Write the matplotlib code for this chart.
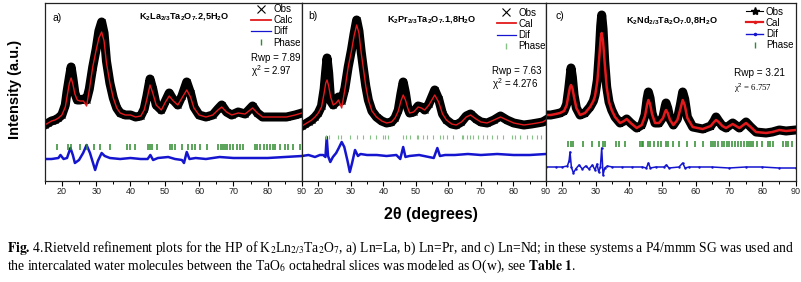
import matplotlib
matplotlib.use("Agg")
import matplotlib.pyplot as plt
from matplotlib.lines import Line2D

plt.rcParams.update({
    "font.family": "Liberation Sans",
    "mathtext.fontset": "custom",
    "mathtext.rm": "Liberation Sans",
    "mathtext.bf": "Liberation Sans:bold",
    "mathtext.it": "Liberation Sans:italic",
    "axes.linewidth": 0.9,
})

# ---- data (intensity in a.u., 2theta in degrees)
# panel a) K2La2/3Ta2O7.2,5H2O
theta_a = [15, 16, 17, 18, 19, 20, 21, 21.5, 22.2, 22.7, 23.2, 23.8, 24.5, 25.3, 26.3, 27.2,
           28, 29, 30, 30.8, 31.6, 32.3, 33, 34, 35, 36, 37, 38.5, 40, 41.5, 43, 44, 44.8,
           45.7, 46.5, 47.5, 49, 50.2, 51.3, 52.5, 53.8, 55, 56.4, 57.5, 58.5, 60, 62, 64,
           65.5, 66.6, 68, 69.5, 71.4, 73.4, 75.6, 77, 78.5, 80.5, 83, 85.5, 88, 90]
calc_a = [56, 58, 60, 61, 63, 66, 74, 84, 98, 103, 97, 87, 81, 80, 80, 75,
          91, 114, 131, 143, 149, 140, 118, 98, 83, 73, 68, 66, 66, 64, 65, 71, 82,
          96, 88, 76, 71, 79, 85, 80, 76, 83, 91, 84, 73, 66, 64, 66,
          71, 74, 69, 66, 68, 67, 73, 68, 64, 64, 64, 64, 66, 68]
obs_a = [56, 58, 60, 61, 63, 66, 76, 89, 104, 114, 103, 88, 81, 81, 82, 81,
         92, 114, 132, 150, 159, 148, 120, 98, 83, 73, 68, 66, 66, 64, 65, 72, 85,
         102, 92, 76, 71, 80, 88, 81, 76, 85, 99, 88, 74, 66, 64, 66,
         72, 76, 69, 66, 69, 67, 75, 68, 64, 64, 64, 64, 66, 68]
theta_da = [15, 17, 19, 19.6, 20.5, 21.5, 22.5, 23.2, 23.8, 25, 26.2, 27.2, 28.2, 29, 29.7,
            30.5, 31.6, 32.5, 34, 37, 40, 43, 45, 45.8, 46.6, 48, 51, 53, 55, 55.6, 56.4,
            57.2, 59, 62, 66, 70, 75, 80, 85, 90]
diff_a = [22, 22, 23, 26, 22, 23, 33, 26, 18, 21, 28, 36, 28, 19, 11,
          20, 28, 25, 23, 22, 23, 22, 22, 26, 21, 23, 24, 22, 21, 18, 29,
          22, 23, 22, 24, 23, 23, 23, 24, 25]
phase_a = [18.7, 21.9, 22.7, 25.3, 27.4, 29.4, 31.1, 34.0, 38.9, 39.9, 41.3, 45.2, 45.7,
           46.2, 47.7, 51.5, 52.0, 53.0, 54.9, 56.9, 57.9, 58.8, 60.3, 62.2, 65.6, 66.3,
           66.9, 67.6, 68.1, 69.0, 70.0, 71.0, 71.9, 72.9, 76.3, 76.8, 77.8, 78.8, 79.7,
           80.7, 81.6, 82.1, 83.6, 85.1, 86.0, 87.5, 89.4]

# panel b) K2Pr2/3Ta2O7.1,8H2O
theta_b = [15, 16, 17, 18, 19, 20, 21, 21.8, 22.3, 22.7, 23.2, 23.8, 24.6, 25.5, 26.2, 27.2,
           28.2, 29.2, 30.2, 31, 31.8, 32.5, 33.2, 33.8, 34.6, 35.4, 36.5, 37.9, 39.5, 41,
           42.5, 43.6, 44.6, 45.4, 46.1, 46.8, 47.5, 48.1, 49.3, 50.7, 51.7, 52.7, 54, 55.8,
           57, 58.2, 59.4, 61, 62.4, 64, 65.5, 66.8, 68.5, 70, 71.9, 74, 76, 78, 80.1,
           83.2, 85.5, 87.3, 89, 90]
calc_b = [55, 57, 59, 61, 64, 68, 74, 88, 98, 101, 95, 84, 76, 78, 81, 73,
          92, 114, 130, 145, 156, 148, 128, 114, 95, 81, 70, 64, 60, 58,
          59, 63, 70, 80, 86, 81, 73, 68, 69, 74, 73, 71, 76, 86,
          79, 67, 61, 57, 56, 59, 64, 66, 62, 59, 58, 61, 64, 61, 58,
          56, 57, 58, 59, 61]
obs_b = [55, 57, 59, 61, 64, 68, 75, 92, 110, 123, 108, 80, 76, 79, 84, 80,
         93, 114, 131, 147, 161, 150, 129, 114, 95, 81, 70, 64, 60, 58,
         59, 63, 71, 87, 99, 88, 73, 68, 69, 75, 74, 71, 77, 91,
         82, 67, 61, 57, 56, 59, 65, 67, 62, 59, 58, 61, 65, 61, 58,
         56, 57, 58, 59, 61]
theta_db = [15, 17, 19, 20.5, 21.5, 22.2, 22.6, 23.0, 23.7, 24.5, 25.5, 26.3, 27.2, 28, 29,
            29.7, 30.4, 31.3, 32.2, 33, 35, 38, 41, 44, 45.2, 46.1, 46.8, 48, 51, 54, 55.5,
            56.6, 57.4, 59, 62, 66, 70, 75, 80, 85, 90]
diff_b = [25, 26, 24, 26, 26, 24, 44, 25, 19, 24, 28, 33, 39, 34, 20,
          9, 18, 31, 25, 27, 26, 26, 25, 26, 22, 34, 24, 25, 26, 24, 23,
          33, 25, 26, 26, 27, 26, 27, 26, 26, 27]
phase_b = [22.4, 23.4, 26.2, 27.0, 29.8, 32.0, 33.9, 35.9, 37.7, 40.0, 40.5, 41.5, 46.1,
           47.0, 48.2, 50.3, 50.8, 52.3, 53.3, 55.4, 57.4, 58.4, 59.5, 61.5, 64.1, 64.6,
           65.6, 66.6, 67.7, 69.2, 70.7, 71.8, 73.3, 74.9, 76.9, 79.5, 80.5, 82.0, 84.1,
           85.6, 87.1, 88.6]

# panel c) K2Nd2/3Ta2O7.0,8H2O
theta_c = [15, 16.5, 18, 19.3, 20.5, 21.3, 21.9, 22.3, 22.6, 23, 23.5, 24.2, 25.3, 26.8, 28.3,
           29.3, 29.8, 30.5, 31.1, 31.5, 31.8, 32.2, 32.7, 33.3, 34, 34.8, 35.8, 37.3, 38.5,
           39.3, 40.5, 42.3, 43.8, 44.8, 45.4, 45.8, 46.3, 46.9, 47.8, 49, 50.2, 50.8, 51.1,
           51.6, 52.3, 53.3, 54.5, 55.4, 56.1, 56.7, 57.5, 59.1, 62.1, 64.5, 65.5, 66.1,
           66.9, 68, 69.1, 71.1, 73.1, 75.1, 76.5, 78.1, 81.1, 83, 85.1, 87.1, 90]
calc_c = [66, 66, 67, 68, 70, 76, 87, 94, 96, 93, 84, 73, 66, 68, 74,
          80, 85, 100, 125, 143, 148, 140, 118, 94, 79, 71, 64, 58, 60,
          62, 58, 53, 56, 65, 76, 81, 77, 67, 58, 58, 63, 69, 71,
          68, 61, 56, 61, 72, 81, 76, 63, 54, 52, 55, 59, 61,
          59, 55, 53, 57, 53, 58, 54, 49, 48, 49, 51, 50, 51]
obs_c = [66, 66, 67, 68, 70, 77, 92, 104, 113, 104, 86, 73, 66, 68, 74,
         80, 86, 101, 130, 155, 166, 152, 120, 94, 79, 71, 64, 58, 60,
         62, 58, 53, 56, 66, 82, 89, 83, 68, 58, 58, 64, 74, 78,
         73, 62, 56, 62, 76, 89, 82, 64, 54, 52, 55, 60, 64,
         60, 55, 53, 58, 53, 59, 54, 49, 48, 49, 51, 50, 51]
theta_dc = [15, 18, 20, 21.5, 22, 22.3, 22.7, 23.3, 24, 25, 26, 27, 28, 29, 29.8, 30.4, 30.9,
            31.4, 31.8, 32.2, 32.7, 33.5, 35, 38, 41, 44, 45.2, 45.8, 46.4, 48, 50.5, 51.2,
            52, 55, 56.1, 56.8, 58, 61, 65, 70, 75, 80, 85, 90]
diff_c = [14, 14, 14, 15, 20, 29, 14, 8, 12, 16, 12, 15, 12, 16, 11, 17, 9,
          14, 33, 6, 13, 15, 14, 14, 14, 14, 13, 18, 13, 14, 14, 16,
          13, 14, 18, 13, 14, 14, 14, 13, 14, 14, 13, 13]
phase_c = [21.8, 22.5, 23.3, 26.3, 29.0, 31.1, 32.1, 32.9, 36.1, 37.1, 38.8, 43.3, 43.8,
           44.3, 45.6, 46.3, 47.5, 48.8, 49.5, 51.1, 51.8, 53.3, 55.0, 57.3, 59.8, 62.3,
           64.5, 65.1, 65.8, 66.8, 67.8, 68.5, 69.3, 70.0, 70.8, 71.8, 72.8, 73.5, 74.5,
           75.5, 76.1, 76.5, 77.3, 78.3, 79.8, 81.8, 82.3, 83.3, 86.3, 87.1, 87.8, 88.8]

PHASE_Y = {"a": 34, "b": 44, "c": 37}
titles = {
    "a": r"K$_\mathbf{2}$La$_\mathbf{2/3}$Ta$_\mathbf{2}$O$_\mathbf{7}$.2,5H$_\mathbf{2}$O",
    "b": r"K$_\mathbf{2}$Pr$_\mathbf{2/3}$Ta$_\mathbf{2}$O$_\mathbf{7}$.1,8H$_\mathbf{2}$O",
    "c": r"K$_\mathbf{2}$Nd$_\mathbf{2/3}$Ta$_\mathbf{2}$O$_\mathbf{7}$.0,8H$_\mathbf{2}$O",
}
legend_labels = {"a": ["Obs", "Calc", "Diff", "Phase"],
                 "b": ["Obs", "Cal", "Dif", "Phase"],
                 "c": ["Obs", "Cal", "Dif", "Phase"]}
rwp = {"a": "7.89", "b": "7.63", "c": "3.21"}
chi2 = {"a": "2.97", "b": "4.276", "c": "6.757"}

RED, BLUE, GREEN, GREEN_B = "#e31a1c", "#1515d0", "#2e8b2e", "#86c286"

fig = plt.figure(figsize=(8.01, 2.82), dpi=100)
W, H = 801, 282
boxes = {"a": (44.7, 302.0), "b": (302.0, 546.0), "c": (545.7, 795.7)}
top_px, bot_px = 3, 181

panels = {
    "a": (theta_a, obs_a, calc_a, theta_da, diff_a, phase_a),
    "b": (theta_b, obs_b, calc_b, theta_db, diff_b, phase_b),
    "c": (theta_c, obs_c, calc_c, theta_dc, diff_c, phase_c),
}
geo = {  # label xy, title xy, legend anchor, rwp xy, chi xy
    "a": ((0.048, 0.915), (0.542, 0.925), (0.795, 1.005), (0.80, 0.69), (0.80, 0.615)),
    "b": ((0.045, 0.925), (0.533, 0.905), (0.79, 0.985), (0.78, 0.62), (0.78, 0.545)),
    "c": ((0.058, 0.925), (0.505, 0.905), (0.793, 0.99), (0.753, 0.607), (0.753, 0.52)),
}

for key, (x0, x1) in boxes.items():
    ax = fig.add_axes([x0 / W, 1 - bot_px / H, (x1 - x0) / W, (bot_px - top_px) / H])
    th, obs, calc, thd, diff, phase = panels[key]
    if key == "c":
        ax.plot(th, obs, color="black", lw=6.5, solid_joinstyle="round")
        ax.plot(th, obs, "*", color="black", ms=4.5)
        ax.plot(th, calc, color=RED, lw=1.8)
        ax.plot(thd, diff, color=BLUE, lw=1.1, marker=".", ms=1.5)
        ax.plot(phase, [PHASE_Y[key]] * len(phase), "|", color=GREEN, ms=5, mew=1.1)
    else:
        ax.plot(th, obs, color="black", lw=6.5, solid_joinstyle="round")
        ax.plot(th, obs, "x", color="black", ms=4.5, mew=0.9)
        ax.plot(th, calc, color=RED, lw=1.0)
        ax.plot(thd, diff, color=BLUE, lw=1.8)
        col = GREEN if key == "a" else GREEN_B
        ax.plot(phase, [PHASE_Y[key]] * len(phase), "|", color=col,
                ms=4 if key == "a" else 3, mew=1.1 if key == "a" else 0.8)

    ax.set_xlim(15, 90)
    ax.set_ylim(0, 178)
    ax.set_yticks([])
    ax.set_xticks(range(20, 91, 10))
    ax.set_xticks(range(15, 91, 5), minor=True)
    ax.tick_params(axis="x", which="major", direction="out", length=3.5, width=0.8,
                   labelsize=6.5, pad=1, labelcolor="#222222")
    ax.tick_params(axis="x", which="minor", direction="out", length=2, width=0.7)
    for s in ax.spines.values():
        s.set_color("#222222")

    (lx, ly), (tx, ty), (gx, gy), (rx, ry), (cx, cy) = geo[key]
    ax.text(lx, ly, key + ")", transform=ax.transAxes, ha="center", va="center", fontsize=7.5)
    ax.text(tx, ty, titles[key], transform=ax.transAxes, ha="center", va="center",
            fontsize=6.6, fontweight="bold")

    labs = legend_labels[key]
    if key == "c":
        handles = [Line2D([], [], color="black", lw=0.8, marker="*", ms=6),
                   Line2D([], [], color=RED, lw=1.6, marker=".", ms=3),
                   Line2D([], [], color=BLUE, lw=1.0, marker=".", ms=3),
                   Line2D([], [], ls="none", marker="|", color=GREEN, ms=5)]
        hl = 1.8
    else:
        handles = [Line2D([], [], ls="none", marker="x", color="black", ms=6, mew=0.8),
                   Line2D([], [], color=RED, lw=1.3),
                   Line2D([], [], color=BLUE, lw=0.9),
                   Line2D([], [], ls="none", marker="|", color=GREEN if key == "a" else GREEN_B,
                          ms=5)]
        hl = 2.0
    ax.legend(handles, labs, loc="upper left", bbox_to_anchor=(gx, gy), frameon=False,
              fontsize=7, handlelength=hl, handletextpad=0.25, labelspacing=0.12,
              borderpad=0.2, borderaxespad=0)

    ax.text(rx, ry, "Rwp = " + rwp[key], transform=ax.transAxes, ha="left", va="center",
            fontsize=7.2 if key == "c" else 7)
    if key == "c":
        ax.text(cx, cy, r"χ$^2$ = " + chi2[key], transform=ax.transAxes, ha="left",
                va="center", fontsize=6.3, family="Liberation Serif")
    else:
        ax.text(cx, cy, r"χ$^2$ = " + chi2[key], transform=ax.transAxes, ha="left",
                va="center", fontsize=7)

fig.text(15 / W, 1 - 89 / H, "Intensity (a.u.)", rotation=90, ha="center", va="center",
         fontsize=10.5, fontweight="bold")
fig.text(431 / W, 1 - 214 / H, "2θ (degrees)", ha="center", va="center",
         fontsize=11.5, fontweight="bold")

cap1 = (r"$\mathbf{Fig.}\,$4.Rietveld refinement plots for the HP of "
        r"K$_2$Ln$_{2/3}$Ta$_2$O$_7$, a) Ln=La, b) Ln=Pr, and c) Ln=Nd; in these systems "
        r"a P4/mmm SG was used and")
cap2 = (r"the intercalated water molecules between the TaO$_6$ octahedral slices was "
        r"modeled as O(w), see $\mathbf{Table\ 1}$.")
fig.text(7 / W, 1 - 248 / H, cap1, ha="left", va="center", fontsize=9.8,
         family="Liberation Serif", math_fontfamily="stix")
fig.text(7 / W, 1 - 266 / H, cap2, ha="left", va="center", fontsize=9.8,
         family="Liberation Serif", math_fontfamily="stix")

fig.savefig("out.png", dpi=100)
